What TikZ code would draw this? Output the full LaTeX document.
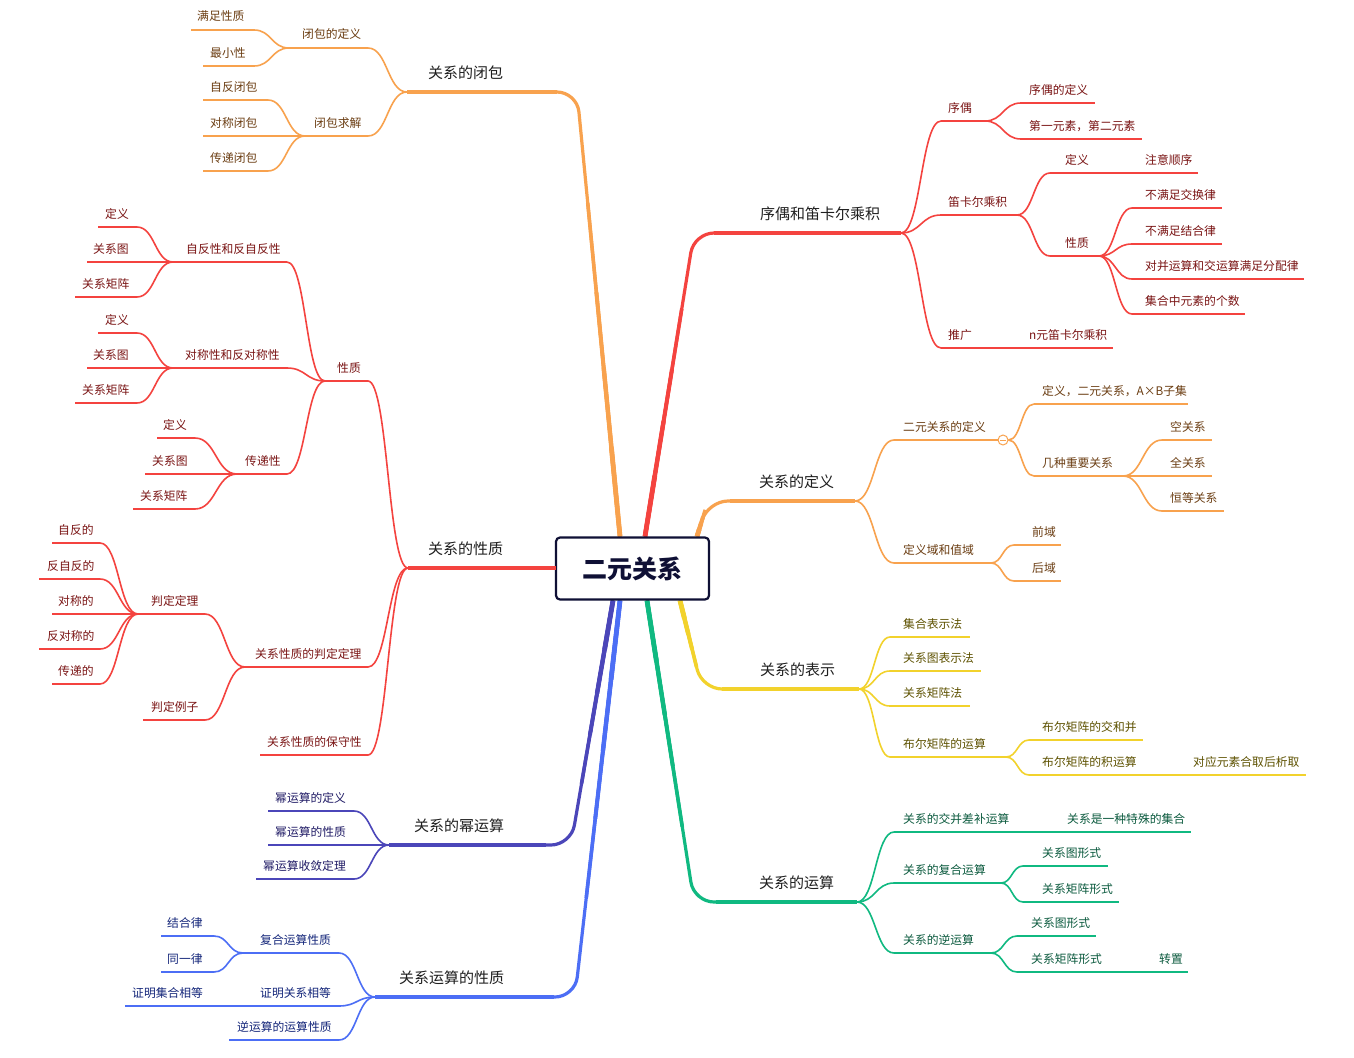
\documentclass[tikz,border=0pt]{standalone}
\usepackage{fontspec}
\setmainfont{Noto Sans CJK SC}
\usetikzlibrary{calc}
\definecolor{orL}{HTML}{F8A24E}\definecolor{orT}{HTML}{6B3D12}
\definecolor{rdL}{HTML}{F4433F}\definecolor{rdT}{HTML}{7A1414}
\definecolor{inL}{HTML}{4B46B9}\definecolor{inT}{HTML}{211C66}
\definecolor{blL}{HTML}{4C6EF5}\definecolor{blT}{HTML}{14267A}
\definecolor{yeL}{HTML}{F2D22C}\definecolor{yeT}{HTML}{5E5200}
\definecolor{grL}{HTML}{10B981}\definecolor{grT}{HTML}{0B5A3E}
\definecolor{ctrC}{HTML}{0F1035}
\pgfdeclarelayer{bg}\pgfsetlayers{bg,main}
\tikzset{
 lk/.style={to path={let \p1=(\tikztostart),\p2=(\tikztotarget) in .. controls ({0.5*\x1+0.5*\x2},\y1) and ({0.5*\x1+0.5*\x2},\y2) .. (\tikztotarget)}},
 ulnode/.style={inner sep=0pt, minimum height=0pt, outer sep=0pt},
 subtxt/.style={inner sep=0pt, font=\fontsize{11.8}{14}\selectfont},
 maintxt/.style={inner sep=0pt, font=\fontsize{15}{18}\selectfont, text=black!88},
 ctrbox/.style={draw=ctrC, line width=2.2pt, rounded corners=4pt, fill=white, inner sep=0pt,
   minimum width=153pt, minimum height=62pt, text=ctrC, font=\fontsize{25}{30}\selectfont\bfseries},
}
\newcommand\tp[7]{%
 \node[ulnode, minimum width={(#4-#3)*1pt}] (#1) at ({(#3+#4)/2},#5) {};
 \draw[#2L, line width=1.6pt] (#1.west) -- (#1.east);
 \node[subtxt, text=#2T, anchor=base west] (#1t) at (#6,{#5-9}) {#7};}
\newcommand\mt[7]{%
 \node[ulnode, minimum width={(#4-#3)*1pt}] (#1) at ({(#3+#4)/2},#5) {};
 \draw[#2L, line width=3.2pt] (#1.west) -- (#1.east);
 \node[maintxt, anchor=base west] (#1t) at (#6,{#5-14}) {#7};}
\newcommand\cn[3]{\draw[#1L, line width=1.6pt] (#2) to[lk] (#3);}
\newcommand\mb[4]{%
 \draw[#1L, line width=3.2pt, rounded corners=20pt] (#2) -- #3 -- #4;
 \draw[#1L, line width=3.6pt] #4 -- ($#4!0.75!#3$);
 \draw[#1L, line width=4.0pt] #4 -- ($#4!0.55!#3$);
 \draw[#1L, line width=4.4pt] #4 -- ($#4!0.38!#3$);
 \draw[#1L, line width=4.8pt] #4 -- ($#4!0.2!#3$);}
\begin{document}
\begin{tikzpicture}[x=1pt,y=-1pt]
\useasboundingbox (0,0) rectangle (1354,1057);
\begin{pgfonlayer}{bg}
\fill[white] (0,0) rectangle (1354,1057);
\end{pgfonlayer}
\node[ctrbox] (ctr) at (632.5,568.5) {二元关系};

% ---------- 关系的闭包 ----------
\mt{A}{or}{407}{557}{92}{428}{关系的闭包}
\tp{A1}{or}{289}{368}{48}{302}{闭包的定义}
\tp{A11}{or}{191}{254}{30}{197}{满足性质}
\tp{A12}{or}{203}{254}{66}{210}{最小性}
\tp{A2}{or}{305}{368}{136}{314}{闭包求解}
\tp{A21}{or}{203}{268}{100}{210}{自反闭包}
\tp{A22}{or}{203}{268}{136}{210}{对称闭包}
\tp{A23}{or}{203}{268}{171}{210}{传递闭包}
\cn{or}{A.west}{A1.east}\cn{or}{A.west}{A2.east}
\cn{or}{A1.west}{A11.east}\cn{or}{A1.west}{A12.east}
\cn{or}{A2.west}{A21.east}\cn{or}{A2.west}{A22.east}\cn{or}{A2.west}{A23.east}

% ---------- 关系的性质 ----------
\mt{B}{rd}{408}{556}{568}{428}{关系的性质}
\tp{B1}{rd}{325}{368}{381}{337}{性质}
\tp{B11}{rd}{173}{287}{262}{186}{自反性和反自反性}
\tp{B111}{rd}{98}{137}{227}{105}{定义}
\tp{B112}{rd}{87}{137}{262}{93}{关系图}
\tp{B113}{rd}{75}{137}{297}{82}{关系矩阵}
\tp{B12}{rd}{173}{287}{368}{185}{对称性和反对称性}
\tp{B121}{rd}{98}{137}{333}{105}{定义}
\tp{B122}{rd}{87}{137}{368}{93}{关系图}
\tp{B123}{rd}{75}{137}{403}{82}{关系矩阵}
\tp{B13}{rd}{237}{287}{474}{245}{传递性}
\tp{B131}{rd}{157}{195}{438}{163}{定义}
\tp{B132}{rd}{145}{195}{474}{152}{关系图}
\tp{B133}{rd}{133}{195}{509}{140}{关系矩阵}
\tp{B2}{rd}{245}{368}{667}{255}{关系性质的判定定理}
\tp{B21}{rd}{138}{205}{614}{151}{判定定理}
\tp{B211}{rd}{52}{100}{543}{58}{自反的}
\tp{B212}{rd}{39}{100}{579}{47}{反自反的}
\tp{B213}{rd}{52}{100}{614}{58}{对称的}
\tp{B214}{rd}{39}{100}{649}{47}{反对称的}
\tp{B215}{rd}{52}{100}{684}{58}{传递的}
\tp{B22}{rd}{143}{205}{720}{151}{判定例子}
\tp{B3}{rd}{260}{368}{755}{267}{关系性质的保守性}
\cn{rd}{B.west}{B1.east}\cn{rd}{B.west}{B2.east}\cn{rd}{B.west}{B3.east}
\cn{rd}{B1.west}{B11.east}\cn{rd}{B1.west}{B12.east}\cn{rd}{B1.west}{B13.east}
\cn{rd}{B11.west}{B111.east}\cn{rd}{B11.west}{B112.east}\cn{rd}{B11.west}{B113.east}
\cn{rd}{B12.west}{B121.east}\cn{rd}{B12.west}{B122.east}\cn{rd}{B12.west}{B123.east}
\cn{rd}{B13.west}{B131.east}\cn{rd}{B13.west}{B132.east}\cn{rd}{B13.west}{B133.east}
\cn{rd}{B2.west}{B21.east}\cn{rd}{B2.west}{B22.east}
\cn{rd}{B21.west}{B211.east}\cn{rd}{B21.west}{B212.east}\cn{rd}{B21.west}{B213.east}
\cn{rd}{B21.west}{B214.east}\cn{rd}{B21.west}{B215.east}

% ---------- 关系的幂运算 ----------
\mt{C}{in}{389}{546}{845}{414}{关系的幂运算}
\tp{C1}{in}{268}{354}{811}{275}{幂运算的定义}
\tp{C2}{in}{268}{354}{845}{275}{幂运算的性质}
\tp{C3}{in}{256}{354}{879}{263}{幂运算收敛定理}
\cn{in}{C.west}{C1.east}\cn{in}{C.west}{C2.east}\cn{in}{C.west}{C3.east}

% ---------- 关系运算的性质 ----------
\mt{D}{bl}{375}{554}{997}{399}{关系运算的性质}
\tp{D1}{bl}{243}{339}{953}{260}{复合运算性质}
\tp{D11}{bl}{161}{214}{936}{167}{结合律}
\tp{D12}{bl}{161}{214}{972}{167}{同一律}
\tp{D2}{bl}{212}{339}{1006}{260}{证明关系相等}
\tp{D21}{bl}{125}{212}{1006}{132}{证明集合相等}
\tp{D3}{bl}{229}{339}{1040}{237}{逆运算的运算性质}
\cn{bl}{D.west}{D1.east}\cn{bl}{D.west}{D2.east}\cn{bl}{D.west}{D3.east}
\cn{bl}{D1.west}{D11.east}\cn{bl}{D1.west}{D12.east}

% ---------- 序偶和笛卡尔乘积 ----------
\mt{E}{rd}{714}{901}{233}{760}{序偶和笛卡尔乘积}
\tp{E1}{rd}{941}{985}{121}{948}{序偶}
\tp{E11}{rd}{1021}{1095}{103}{1029}{序偶的定义}
\tp{E12}{rd}{1021}{1142}{139}{1029}{第一元素，第二元素}
\tp{E2}{rd}{941}{1017}{215}{948}{笛卡尔乘积}
\tp{E21}{rd}{1050}{1130}{173}{1065}{定义}
\tp{E211}{rd}{1130}{1198}{173}{1145}{注意顺序}
\tp{E22}{rd}{1050}{1099}{256}{1065}{性质}
\tp{E221}{rd}{1132}{1222}{208}{1145}{不满足交换律}
\tp{E222}{rd}{1132}{1222}{244}{1145}{不满足结合律}
\tp{E223}{rd}{1132}{1304}{279}{1145}{对并运算和交运算满足分配律}
\tp{E224}{rd}{1132}{1245}{314}{1145}{集合中元素的个数}
\tp{E3}{rd}{941}{1020}{348}{948}{推广}
\tp{E31}{rd}{1020}{1113}{348}{1029}{n元笛卡尔乘积}
\cn{rd}{E.east}{E1.west}\cn{rd}{E.east}{E2.west}\cn{rd}{E.east}{E3.west}
\cn{rd}{E1.east}{E11.west}\cn{rd}{E1.east}{E12.west}
\cn{rd}{E2.east}{E21.west}\cn{rd}{E2.east}{E22.west}
\cn{rd}{E22.east}{E221.west}\cn{rd}{E22.east}{E222.west}\cn{rd}{E22.east}{E223.west}\cn{rd}{E22.east}{E224.west}

% ---------- 关系的定义 ----------
\mt{F}{or}{730}{855}{501}{759}{关系的定义}
\tp{F1}{or}{894}{998}{440}{903}{二元关系的定义}
\node[circle, draw=orL, fill=white, line width=1pt, inner sep=0pt, minimum size=10pt] (F1c) at (1003,440) {};
\draw[orL, line width=0.9pt] ([xshift=-3pt]F1c.center) -- ([xshift=3pt]F1c.center);
\tp{F11}{or}{1034}{1188}{404}{1042}{定义，二元关系，A×B子集}
\tp{F12}{or}{1034}{1123}{476}{1042}{几种重要关系}
\tp{F121}{or}{1162}{1212}{440}{1170}{空关系}
\tp{F122}{or}{1162}{1212}{476}{1170}{全关系}
\tp{F123}{or}{1162}{1224}{511}{1170}{恒等关系}
\tp{F2}{or}{894}{991}{563}{903}{定义域和值域}
\tp{F21}{or}{1014}{1061}{545}{1032}{前域}
\tp{F22}{or}{1014}{1061}{581}{1032}{后域}
\cn{or}{F.east}{F1.west}\cn{or}{F.east}{F2.west}
\cn{or}{F1c.east}{F11.west}\cn{or}{F1c.east}{F12.west}
\cn{or}{F12.east}{F121.west}\cn{or}{F12.east}{F122.west}\cn{or}{F12.east}{F123.west}
\cn{or}{F2.east}{F21.west}\cn{or}{F2.east}{F22.west}

% ---------- 关系的表示 ----------
\mt{G}{ye}{722}{859}{689}{760}{关系的表示}
\tp{G1}{ye}{890}{970}{637}{903}{集合表示法}
\tp{G2}{ye}{890}{981}{671}{903}{关系图表示法}
\tp{G3}{ye}{890}{970}{706}{903}{关系矩阵法}
\tp{G4}{ye}{890}{1006}{757}{903}{布尔矩阵的运算}
\tp{G41}{ye}{1029}{1143}{740}{1042}{布尔矩阵的交和并}
\tp{G42}{ye}{1029}{1150}{775}{1042}{布尔矩阵的积运算}
\tp{G421}{ye}{1150}{1306}{775}{1193}{对应元素合取后析取}
\cn{ye}{G.east}{G1.west}\cn{ye}{G.east}{G2.west}\cn{ye}{G.east}{G3.west}\cn{ye}{G.east}{G4.west}
\cn{ye}{G4.east}{G41.west}\cn{ye}{G4.east}{G42.west}

% ---------- 关系的运算 ----------
\mt{H}{gr}{716}{857}{902}{759}{关系的运算}
\tp{H1}{gr}{894}{1040}{832}{903}{关系的交并差补运算}
\tp{H11}{gr}{1040}{1191}{832}{1067}{关系是一种特殊的集合}
\tp{H2}{gr}{894}{1001}{883}{903}{关系的复合运算}
\tp{H21}{gr}{1023}{1108}{866}{1042}{关系图形式}
\tp{H22}{gr}{1023}{1119}{902}{1042}{关系矩阵形式}
\tp{H3}{gr}{894}{991}{953}{903}{关系的逆运算}
\tp{H31}{gr}{1017}{1096}{936}{1031}{关系图形式}
\tp{H32}{gr}{1017}{1130}{972}{1031}{关系矩阵形式}
\tp{H321}{gr}{1130}{1188}{972}{1159}{转置}
\cn{gr}{H.east}{H1.west}\cn{gr}{H.east}{H2.west}\cn{gr}{H.east}{H3.west}
\cn{gr}{H2.east}{H21.west}\cn{gr}{H2.east}{H22.west}
\cn{gr}{H3.east}{H31.west}\cn{gr}{H3.east}{H32.west}

% ---------- main branches ----------
\begin{pgfonlayer}{bg}
\mb{or}{A.east}{(577,92)}{([xshift=-12.5pt]ctr.north)}
\draw[rdL, line width=4pt] (B.east) -- (ctr.west);
\mb{in}{C.east}{(571,845)}{([xshift=-19.5pt]ctr.south)}
\mb{bl}{D.east}{(575,997)}{([xshift=-12.5pt]ctr.south)}
\mb{rd}{E.west}{(694,233)}{([xshift=12.5pt]ctr.north)}
\mb{or}{F.west}{(708,501)}{([xshift=64.5pt]ctr.north)}
\mb{ye}{G.west}{(702,689)}{([xshift=47.5pt]ctr.south)}
\mb{gr}{H.west}{(694,902)}{([xshift=14.5pt]ctr.south)}
\end{pgfonlayer}
\end{tikzpicture}
\end{document}
